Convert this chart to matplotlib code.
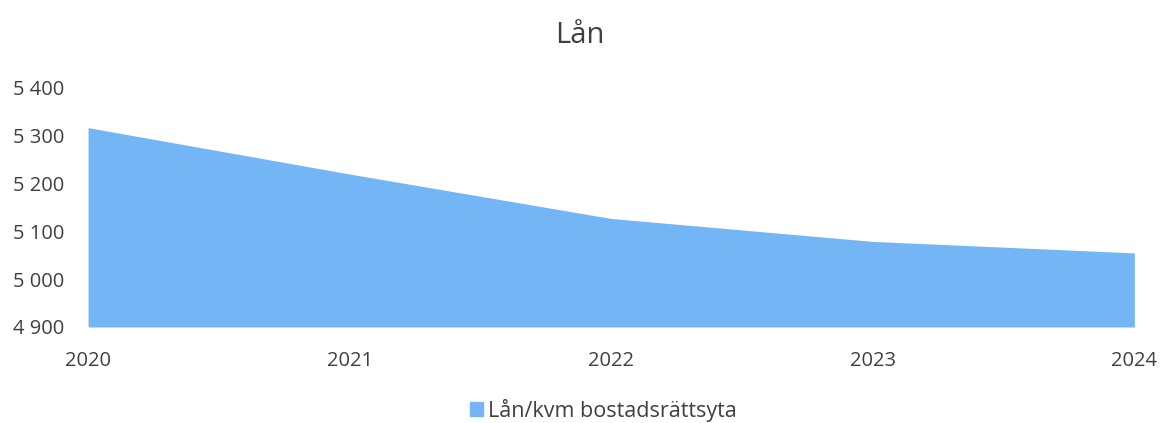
import matplotlib
matplotlib.use('Agg')
import matplotlib.pyplot as plt
from matplotlib.ticker import FuncFormatter
from matplotlib.patches import Patch

years = ['2020', '2021', '2022', '2023', '2024']
lan_per_kvm = [5317, 5220, 5127, 5079, 5055]
y_ticks = [4900, 5000, 5100, 5200, 5300, 5400]

plt.rcParams['font.family'] = ['Open Sans', 'DejaVu Sans']
text_col = '#404040'
fill_col = '#74B5F5'

fig = plt.figure(figsize=(11.6, 4.23), dpi=100)
ax = fig.add_axes([0.0759, 0.227, 0.902, 0.565])

x = list(range(len(years)))
ax.fill_between(x, y_ticks[0], lan_per_kvm, color=fill_col, linewidth=0)
ax.set_xlim(0, len(years) - 1)
ax.set_ylim(y_ticks[0], y_ticks[-1])
ax.set_yticks(y_ticks)
ax.yaxis.set_major_formatter(FuncFormatter(lambda v, p: f'{int(v):,}'.replace(',', ' ')))
ax.set_xticks(x)
ax.set_xticklabels(years)

for s in ax.spines.values():
    s.set_visible(False)
ax.tick_params(axis='both', length=0, labelsize=14.5, colors=text_col)
ax.tick_params(axis='y', pad=17)
ax.tick_params(axis='x', pad=17)

fig.text(0.5, 0.915, 'Lån', ha='center', va='center', fontsize=21, color=text_col)
fig.legend(handles=[Patch(color=fill_col, label='Lån/kvm bostadsrättsyta')],
           loc='center', bbox_to_anchor=(0.52, 0.03), frameon=False,
           fontsize=15.5, labelcolor=text_col, handlelength=0.6, handleheight=0.6,
           handletextpad=0.25)

fig.savefig('out.png', dpi=100)
